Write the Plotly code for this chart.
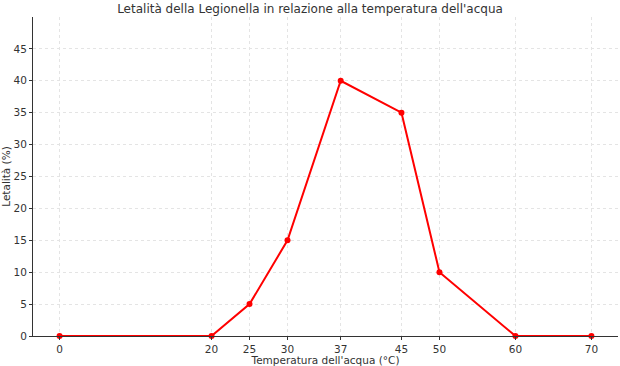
import plotly.graph_objects as go

temperature = [0, 20, 25, 30, 37, 45, 50, 60, 70]
lethality = [0, 0, 5, 15, 40, 35, 10, 0, 0]
y_ticks = [0, 5, 10, 15, 20, 25, 30, 35, 40, 45]

fig = go.Figure()
fig.add_trace(go.Scatter(
    x=temperature, y=lethality, mode="lines+markers",
    line=dict(color="#ff0000", width=2),
    marker=dict(color="#ff0000", size=6),
    cliponaxis=False,
))

font = dict(family="DejaVu Sans", size=10.5, color="#333333")
fig.update_layout(
    width=620, height=366,
    margin=dict(l=33, r=2, t=17, b=30, autoexpand=False),
    paper_bgcolor="white", plot_bgcolor="white",
    showlegend=False,
    font=font,
    title=dict(text="Letalità della Legionella in relazione alla temperatura dell'acqua",
               x=0.5, xanchor="center", y=1 - 9/366, yanchor="middle",
               font=dict(family="DejaVu Sans", size=12, color="#333333")),
    xaxis=dict(
        range=[-3.5, 73.5], tickvals=temperature, ticktext=[str(t) for t in temperature],
        showgrid=True, gridcolor="#e4e4e4", griddash="dot", gridwidth=1,
        showline=True, linecolor="#333333", linewidth=1,
        ticks="outside", ticklen=3, tickcolor="#333333",
        zeroline=False, automargin=False,
        title=dict(text="Temperatura dell'acqua (°C)", standoff=0, font=dict(size=10.5)),
    ),
    yaxis=dict(
        range=[0, 50], tickvals=y_ticks,
        showgrid=True, gridcolor="#e4e4e4", griddash="dot", gridwidth=1,
        showline=True, linecolor="#333333", linewidth=1,
        ticks="outside", ticklen=3, tickcolor="#333333",
        zeroline=False, automargin=False,
        title=dict(text="Letalità (%)", standoff=2, font=dict(size=10.5)),
    ),
)
fig.write_html("out.html")
